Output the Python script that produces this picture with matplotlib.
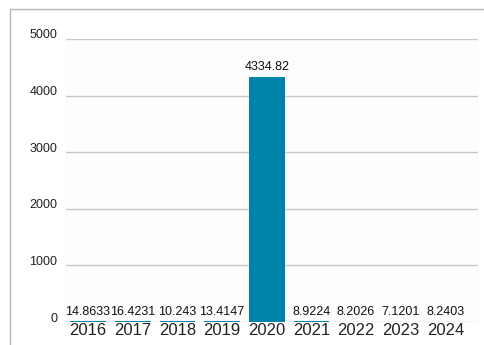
import matplotlib
matplotlib.use("Agg")
from matplotlib import pyplot as plt
from matplotlib.patches import Rectangle
import matplotlib.transforms as mtransforms

anos = ["2016", "2017", "2018", "2019", "2020", "2021", "2022", "2023", "2024"]
valores = [14.8633, 16.4231, 10.243, 13.4147, 4334.82, 8.9224, 8.2026, 7.1201, 8.2403]
yticks = [0, 1000, 2000, 3000, 4000, 5000]

plt.rcParams["font.family"] = ["Liberation Sans", "DejaVu Sans"]

fig = plt.figure(figsize=(4.85, 3.45), dpi=100)
fig.patch.set_facecolor("white")

# moldura externa (cortada embaixo e à direita)
fig.patches.append(Rectangle((10 / 485, -0.1), 1.2, (345 - 9) / 345 + 0.1,
                             transform=fig.transFigure, fill=False,
                             edgecolor="#b4b4b4", linewidth=1.0))

ax = fig.add_axes([65.7 / 485, 23 / 345, (478 - 65.7) / 485, (322 - 39) / 345])
ax.set_facecolor("#fdfdfd")

x = list(range(len(anos)))
ax.bar(x, valores, width=0.8, color="#0083a8", zorder=3)

for xi, v in zip(x, valores):
    ax.annotate(f"{v:g}", (xi, v), xytext=(0, 2.5), textcoords="offset points",
                ha="center", va="bottom", fontsize=9, color="#111111",
                annotation_clip=False)

ax.set_xlim(-0.5, 8.73)
ax.set_ylim(0, 5000)
ax.set_yticks(yticks)
ax.set_xticks(x)
ax.set_xticklabels(anos, fontsize=12, color="#222222")
ax.set_yticklabels([str(t) for t in yticks], fontsize=9, color="#222222")
ax.tick_params(axis="both", length=0)
ax.tick_params(axis="x", pad=1)
ax.tick_params(axis="y", pad=6)

deslocamento = mtransforms.ScaledTranslation(0, 5 / 100, fig.dpi_scale_trans)
for rotulo in ax.get_yticklabels():
    rotulo.set_transform(rotulo.get_transform() + deslocamento)

ax.grid(axis="y", color="#c8c8c8", linewidth=1.0, zorder=0)
for lado in ax.spines.values():
    lado.set_visible(False)

fig.savefig("out.png", dpi=100)
